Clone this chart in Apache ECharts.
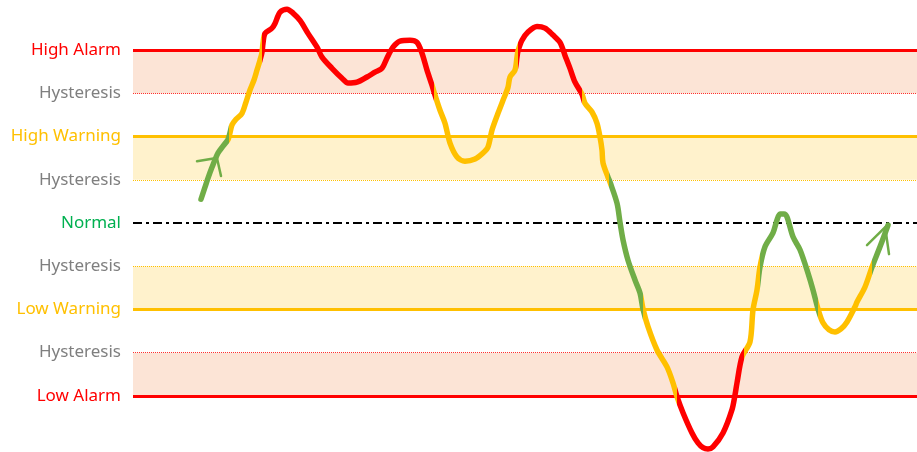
<!DOCTYPE html>
<html>
<head>
<meta charset="utf-8">
<script src="https://cdn.jsdelivr.net/npm/echarts@6/dist/echarts.min.js"></script>
<style>
  html, body { margin: 0; padding: 0; background: #ffffff; }
  #chart { width: 917px; height: 452px; }
</style>
</head>
<body>
<div id="chart"></div>
<script>
// Threshold levels (in units of one hysteresis step) and their names
const levelValues = [4, 3, 2, 1, 0, -1, -2, -3, -4];
const levelNames = ['High Alarm', 'Hysteresis', 'High Warning', 'Hysteresis', 'Normal',
                    'Hysteresis', 'Low Warning', 'Hysteresis', 'Low Alarm'];

// Thresholds used by the state machine
const warnLevel = 2, alarmLevel = 4, alarmClear = 3, warnClear = 1;

// Process value samples (time, reading)
const times = [68, 72, 75, 79, 85, 90, 95, 97, 99, 103, 109, 113, 117, 121, 124, 127, 129, 130, 132,
  139, 142, 147, 154, 160, 167, 175, 184, 189, 199, 209, 215, 224, 234, 242, 249, 254, 260, 267,
  277, 284, 289, 294, 299, 302, 307, 312, 317, 324, 332, 342, 350, 355, 359, 365, 370, 375, 377,
  382, 384, 385, 389, 395, 404, 412, 420, 427, 432, 437, 442, 449, 452, 459, 464, 467, 469, 470,
  475, 477, 484, 487, 490, 495, 502, 507, 510, 515, 524, 534, 540, 544, 550, 559, 565, 570, 575,
  580, 590, 599, 602, 604, 609, 617, 620, 624, 627, 632, 640, 644, 647, 651, 654, 660, 667, 675,
  680, 685, 690, 696, 702, 708, 714, 722, 724, 732, 739, 747, 755];
const readings = [0.55, 0.83, 1.04, 1.29, 1.62, 1.78, 1.93, 2.09, 2.27, 2.40, 2.54, 2.80, 3.08, 3.31,
  3.54, 3.77, 3.95, 4.16, 4.39, 4.51, 4.62, 4.88, 4.95, 4.86, 4.69, 4.39, 4.07, 3.84, 3.58, 3.35,
  3.24, 3.26, 3.38, 3.49, 3.58, 3.82, 4.07, 4.21, 4.23, 4.18, 3.93, 3.54, 3.19, 2.96, 2.61, 2.31,
  1.85, 1.53, 1.43, 1.48, 1.62, 1.76, 2.15, 2.54, 2.84, 3.14, 3.38, 3.54, 3.84, 3.98, 4.23, 4.42,
  4.55, 4.51, 4.35, 4.18, 3.88, 3.58, 3.26, 2.98, 2.77, 2.57, 2.31, 1.99, 1.69, 1.39, 1.06, 0.95,
  0.46, 0.02, -0.39, -0.86, -1.32, -1.62, -1.99, -2.40, -2.94, -3.33, -3.70, -4.02, -4.39, -4.86,
  -5.09, -5.20, -5.23, -5.18, -4.86, -4.32, -3.98, -3.70, -3.10, -2.75, -2.01, -1.55, -1.02, -0.55,
  -0.23, 0.07, 0.21, 0.21, 0.14, -0.32, -0.62, -1.16, -1.55, -1.99, -2.31, -2.47, -2.52, -2.45,
  -2.29, -1.94, -1.83, -1.48, -1.02, -0.55, -0.05];

// Small direction arrows drawn on the trace (pairs of strokes)
const arrowStartLeft = [[64, 1.43], [82, 1.50]];
const arrowStartRight = [[84, 1.50], [88, 1.09]];
const arrowEndLeft = [[734, -0.51], [755, -0.03]];
const arrowEndRight = [[753, -0.23], [756, -0.72]];

const RED = '#FF0000', AMBER = '#FFC000', GREEN = '#70AD47';
const stateColor = { normal: GREEN, warning: AMBER, alarm: RED };

// Walk the samples through the alarm state machine and record where the state changes
function stateChanges() {
  const changes = [];
  let state = 'normal';
  for (let i = 1; i < times.length; i++) {
    const a = readings[i - 1], b = readings[i];
    let moved = true;
    while (moved) {
      moved = false;
      const m = Math.abs(b);
      let next = null, level = null;
      if (state === 'normal' && m >= warnLevel) { next = 'warning'; level = warnLevel; }
      else if (state === 'warning' && m >= alarmLevel) { next = 'alarm'; level = alarmLevel; }
      else if (state === 'warning' && m <= warnClear) { next = 'normal'; level = warnClear; }
      else if (state === 'alarm' && m <= alarmClear) { next = 'warning'; level = alarmClear; }
      if (next) {
        const target = Math.sign(b || 1) * level;
        const f = (b - a) === 0 ? 1 : Math.min(1, Math.max(0, (target - a) / (b - a)));
        changes.push({ at: times[i - 1] + f * (times[i] - times[i - 1]), state: next });
        state = next;
        moved = true;
      }
    }
  }
  return changes;
}

function colourPieces() {
  const changes = stateChanges();
  const pieces = [];
  let from = -Infinity, state = 'normal';
  changes.forEach(c => {
    pieces.push({ gte: from, lt: c.at, color: stateColor[state] });
    from = c.at; state = c.state;
  });
  pieces.push({ gte: from, lte: Infinity, color: stateColor[state] });
  return pieces;
}

const labelStyle = {
  alarm: { color: RED },
  hyst: { color: '#7F7F7F' },
  warn: { color: AMBER },
  normal: { color: '#00B050' }
};
function labelKey(v) {
  const m = Math.abs(v);
  if (m === 4) return 'alarm';
  if (m === 2) return 'warn';
  if (m === 0) return 'normal';
  return 'hyst';
}

function levelLineStyle(v) {
  const m = Math.abs(v);
  if (m === 4) return { color: RED, width: 3, type: 'solid' };
  if (m === 3) return { color: '#FF3030', width: 1, type: [1, 1] };
  if (m === 2) return { color: AMBER, width: 3, type: 'solid' };
  if (m === 1) return { color: '#FFC000', width: 1, type: [1, 1] };
  return { color: '#000000', width: 2, type: [9, 4, 3, 4] };
}

const series = times.map((t, i) => [t, readings[i]]);

const chart = echarts.init(document.getElementById('chart'), null, { renderer: 'canvas' });
chart.setOption({
  animation: false,
  backgroundColor: '#ffffff',
  grid: { left: 133, right: 0, top: 7, bottom: 0, containLabel: false },
  xAxis: {
    type: 'value', min: 0, max: 784,
    show: false
  },
  yAxis: {
    type: 'value', min: -5.3, max: 5,
    axisLine: { show: false },
    axisTick: { show: false },
    splitLine: { show: false },
    axisLabel: {
      customValues: levelValues,
      margin: 12,
      fontFamily: 'Noto Sans',
      fontSize: 17,
      formatter: v => {
        const i = levelValues.indexOf(Math.round(v));
        return i < 0 ? '' : '{' + labelKey(levelValues[i]) + '|' + levelNames[i] + '}';
      },
      rich: Object.fromEntries(Object.entries(labelStyle).map(([k, s]) =>
        [k, { color: s.color, fontFamily: 'Noto Sans', fontSize: 17 }]))
    }
  },
  visualMap: {
    show: false,
    type: 'piecewise',
    dimension: 0,
    seriesIndex: 1,
    pieces: colourPieces()
  },
  series: [
    {
      type: 'line',
      data: [],
      z: 1,
      markArea: {
        silent: true,
        data: [
          [{ yAxis: 4, itemStyle: { color: '#FCE4D6' } }, { yAxis: 3 }],
          [{ yAxis: 2, itemStyle: { color: '#FFF2CC' } }, { yAxis: 1 }],
          [{ yAxis: -1, itemStyle: { color: '#FFF2CC' } }, { yAxis: -2 }],
          [{ yAxis: -3, itemStyle: { color: '#FCE4D6' } }, { yAxis: -4 }]
        ]
      },
      markLine: {
        silent: true,
        symbol: 'none',
        label: { show: false },
        data: levelValues.map(v => ({ yAxis: v, lineStyle: levelLineStyle(v) }))
      }
    },
    {
      type: 'line',
      data: series,
      z: 5,
      smooth: 0.3,
      showSymbol: false,
      clip: false,
      lineStyle: { width: 5.5, cap: 'round', join: 'round' }
    },
    ...[arrowStartLeft, arrowStartRight, arrowEndLeft, arrowEndRight].map(d => ({
      type: 'line',
      data: d,
      z: 6,
      showSymbol: false,
      clip: false,
      lineStyle: { color: GREEN, width: 2.5, cap: 'round' },
      itemStyle: { color: GREEN }
    }))
  ]
});
</script>
</body>
</html>
